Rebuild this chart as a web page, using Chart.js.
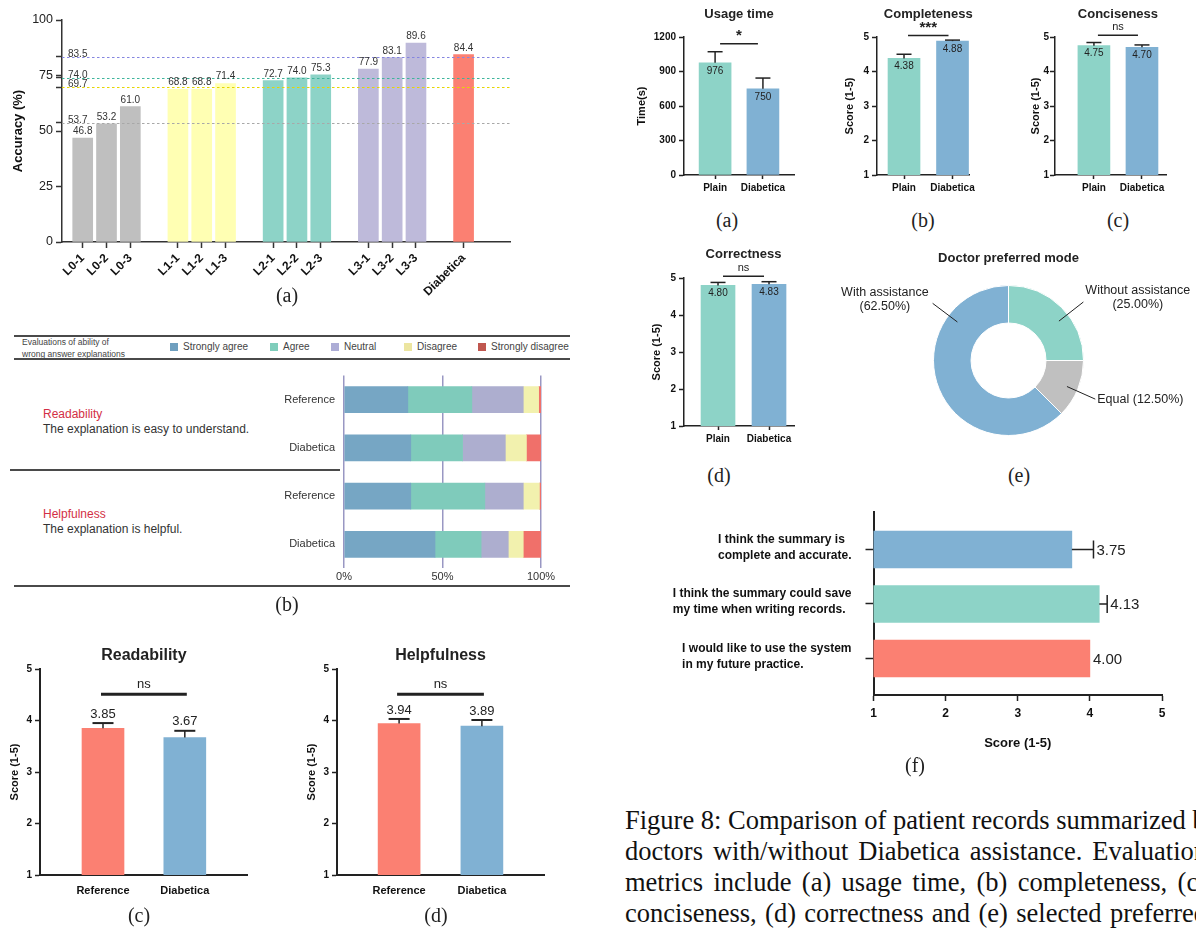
<!DOCTYPE html>
<html lang="en">
<head>
<meta charset="UTF-8">
<title>Figure 8 | Diabetica evaluation</title>
<script src="https://cdn.jsdelivr.net/npm/chart.js"></script>
<style>
  html, body { margin: 0; padding: 0; background: #fff; overflow: hidden; }
  body { position: relative; width: 1196px; height: 929px; font-family: "Liberation Sans", Arial, sans-serif; color: #222; }
  canvas { position: absolute; }
  .sub { position: absolute; font-family: "Liberation Serif", "Times New Roman", serif; font-size: 20px; transform: translate(-50%, -50%); z-index: 2; }
  .rule { position: absolute; background: #4a4a4a; }
  .hdr { position: absolute; left: 22px; top: 336px; font-size: 8.5px; line-height: 12px; color: #444; }
  .key { position: absolute; top: 341px; font-size: 10px; line-height: 12px; color: #444; white-space: nowrap; }
  .key i { display: inline-block; width: 8px; height: 8px; margin-right: 5px; vertical-align: -1px; }
  .aspect { position: absolute; left: 43px; font-size: 12px; line-height: 15px; color: #333; }
  .aspect b { font-weight: normal; color: #d32f45; }
  .caption { position: absolute; left: 625px; top: 805px; width: 582px; font-family: "Liberation Serif", "Times New Roman", serif; font-size: 26.5px; line-height: 31px; color: #111; }
  .caption div { text-align: justify; text-align-last: justify; white-space: nowrap; }
</style>
</head>
<body>

<!-- left column -->
<canvas id="accuracyChart" width="530" height="305" style="left:0;top:0"></canvas>
<div class="sub" style="left:287px;top:295px">(a)</div>

<div class="rule" style="left:14px;top:335px;width:556px;height:2px"></div>
<div class="hdr">Evaluations of ability of<br>wrong answer explanations</div>
<div class="key" style="left:170px"><i style="background:#6f9fbf"></i>Strongly agree</div>
<div class="key" style="left:270px"><i style="background:#7fcdbb"></i>Agree</div>
<div class="key" style="left:331px"><i style="background:#adadd6"></i>Neutral</div>
<div class="key" style="left:404px"><i style="background:#ece5a0"></i>Disagree</div>
<div class="key" style="left:478px"><i style="background:#c0574f"></i>Strongly disagree</div>
<div class="rule" style="left:14px;top:358px;width:556px;height:2px"></div>
<div class="aspect" style="top:407px"><b>Readability</b><br>The explanation is easy to understand.</div>
<div class="rule" style="left:10px;top:469px;width:330px;height:1.5px"></div>
<div class="aspect" style="top:507px"><b>Helpfulness</b><br>The explanation is helpful.</div>
<canvas id="likertChart" width="360" height="226" style="left:220px;top:360px"></canvas>
<div class="rule" style="left:14px;top:585px;width:556px;height:2px"></div>
<div class="sub" style="left:287px;top:604px">(b)</div>

<canvas id="readChart" width="260" height="270" style="left:0;top:640px"></canvas>
<canvas id="helpChart" width="270" height="270" style="left:290px;top:640px"></canvas>
<div class="sub" style="left:139px;top:915px">(c)</div>
<div class="sub" style="left:436px;top:915px">(d)</div>

<!-- right column -->
<canvas id="usageChart" width="180" height="205" style="left:628px;top:0"></canvas>
<canvas id="completeChart" width="170" height="205" style="left:812px;top:0"></canvas>
<canvas id="conciseChart" width="206" height="205" style="left:990px;top:0"></canvas>
<div class="sub" style="left:727px;top:220px">(a)</div>
<div class="sub" style="left:923px;top:220px">(b)</div>
<div class="sub" style="left:1118px;top:220px">(c)</div>

<canvas id="correctChart" width="180" height="215" style="left:628px;top:240px"></canvas>
<canvas id="prefChart" width="376" height="215" style="left:820px;top:245px"></canvas>
<div class="sub" style="left:719px;top:475px">(d)</div>
<div class="sub" style="left:1019px;top:475px">(e)</div>

<canvas id="surveyChart" width="556" height="255" style="left:640px;top:500px"></canvas>
<div class="sub" style="left:915px;top:765px">(f)</div>

<div class="caption">
  <div>Figure 8: Comparison of patient records summarized by</div>
  <div>doctors with/without Diabetica assistance. Evaluation</div>
  <div>metrics include (a) usage time, (b) completeness, (c)</div>
  <div>conciseness, (d) correctness and (e) selected preferred</div>
</div>

<script>
  // ---- (a) accuracy by knowledge level ('' = gap between groups)
  const levelLabels = ['L0-1', 'L0-2', 'L0-3', '', 'L1-1', 'L1-2', 'L1-3', '', 'L2-1', 'L2-2', 'L2-3', '',
                       'L3-1', 'L3-2', 'L3-3', '', 'Diabetica'];
  const levelAccuracy = [46.8, 53.2, 61.0, null, 68.8, 68.8, 71.4, null, 72.7, 74.0, 75.3, null,
                         77.9, 83.1, 89.6, null, 84.4];
  const levelBaselines = [83.5, 74.0, 69.7, 53.7];
  const accuracyTicks = [0, 25, 50, 75, 100];

  // ---- (b) likert shares (%)
  const likertLabels = ['Strongly agree', 'Agree', 'Neutral', 'Disagree', 'Strongly disagree'];
  const likertRows = ['Reference', 'Diabetica', 'Reference', 'Diabetica'];
  const stronglyAgree = [32.4, 33.9, 33.9, 46.2];
  const agree = [32.5, 26.3, 37.6, 23.4];
  const neutral = [26.1, 21.7, 19.5, 13.8];
  const disagree = [7.8, 10.7, 8.2, 7.6];
  const stronglyDisagree = [1.2, 7.4, 0.8, 9.0];

  // ---- (c)(d) explanation scores
  const explainGroups = ['Reference', 'Diabetica'];
  const readability = [3.85, 3.67];
  const readabilityErr = [0.10, 0.13];
  const helpfulness = [3.94, 3.89];
  const helpfulnessErr = [0.09, 0.12];

  // ---- right (a)-(d) summaries
  const modeGroups = ['Plain', 'Diabetica'];
  const usageTime = [976, 750];
  const usageTimeErr = [96, 93];
  const completeness = [4.38, 4.88];
  const completenessErr = [0.12, 0.03];
  const conciseness = [4.75, 4.70];
  const concisenessErr = [0.09, 0.07];
  const correctness = [4.80, 4.83];
  const correctnessErr = [0.08, 0.07];

  // ---- (e) preferred mode
  const prefLabels = ['Without assistance', 'Equal', 'With assistance'];
  const prefShare = [25.00, 12.50, 62.50];

  // ---- (f) survey
  const surveyItems = [
    ['I think the summary is', 'complete and accurate.'],
    ['I think the summary could save', 'my time when writing records.'],
    ['I would like to use the system', 'in my future practice.']
  ];
  const surveyScore = [3.75, 4.13, 4.00];
  const surveyErr = [0.30, 0.11, 0];

  const FONT = '"Liberation Sans", Arial, Helvetica, sans-serif';
  Chart.defaults.font.family = FONT;
  Chart.defaults.color = '#222';
  Chart.defaults.animation = false;
  Chart.defaults.responsive = false;
  Chart.defaults.devicePixelRatio = 1;
  Chart.defaults.plugins.legend.display = false;
  Chart.defaults.plugins.tooltip.enabled = false;

  const teal = '#8dd3c7', blue = '#80b1d3', salmon = '#fb8072';
  const bold = size => ({ size, weight: 'bold' });
  const plain = size => ({ size, weight: 'normal' });
  const css = f => `${f.weight} ${f.size}px ${FONT}`;

  // dashed baselines + value labels for (a)
  const accuracyPlugin = {
    id: 'accuracyMarks',
    afterDatasetsDraw(chart, args, o) {
      const { ctx, chartArea: a } = chart;
      const y = chart.scales.y;
      ctx.save();
      ctx.font = css(plain(10));
      ctx.fillStyle = '#333';
      levelBaselines.forEach((v, i) => {
        const py = Math.round(y.getPixelForValue(v)) + 0.5;
        ctx.strokeStyle = o.lineColors[i];
        ctx.lineWidth = 1.2;
        ctx.setLineDash([2.5, 2.5]);
        ctx.beginPath();
        ctx.moveTo(a.left, py);
        ctx.lineTo(a.right, py);
        ctx.stroke();
        ctx.textAlign = 'left';
        ctx.fillText(v.toFixed(1), a.left + 6, py - 1);
      });
      ctx.setLineDash([]);
      ctx.textAlign = 'center';
      const pts = chart.data.datasets[0].data;
      chart.getDatasetMeta(0).data.forEach((bar, i) => {
        ctx.fillText(pts[i].y.toFixed(1), bar.x, bar.y - 4);
      });
      ctx.restore();
    }
  };

  // error bars, value labels, significance bracket and title for score panels
  const statPlugin = {
    id: 'stat',
    afterDatasetsDraw(chart, args, o) {
      const { ctx } = chart;
      const ys = chart.scales.y;
      const bars = chart.getDatasetMeta(0).data;
      const pts = chart.data.datasets[0].data;
      ctx.save();
      ctx.strokeStyle = '#222';
      ctx.fillStyle = '#222';
      bars.forEach((bar, i) => {
        const top = ys.getPixelForValue(pts[i].y + o.err[i]);
        ctx.lineWidth = 1.5;
        ctx.beginPath();
        ctx.moveTo(bar.x, bar.y);
        ctx.lineTo(bar.x, top);
        ctx.stroke();
        ctx.lineWidth = o.capWidth;
        ctx.beginPath();
        ctx.moveTo(bar.x - o.cap / 2, top);
        ctx.lineTo(bar.x + o.cap / 2, top);
        ctx.stroke();
        ctx.font = css(o.labelFont);
        ctx.textAlign = 'center';
        ctx.textBaseline = 'middle';
        const txt = pts[i].y.toFixed(o.digits);
        if (o.inside) ctx.fillText(txt, bar.x, bar.y + 8);
        else ctx.fillText(txt, bar.x, top - 9);
      });
      const s = o.sig;
      const by = ys.getPixelForValue(s.value);
      ctx.lineWidth = s.width;
      ctx.beginPath();
      ctx.moveTo(bars[0].x + s.inset, by);
      ctx.lineTo(bars[1].x - s.inset, by);
      ctx.stroke();
      const mid = (bars[0].x + bars[1].x) / 2;
      ctx.font = css(s.font);
      ctx.textBaseline = 'bottom';
      ctx.fillText(s.text, mid, by - s.gap);
      ctx.font = css(o.titleFont);
      ctx.textBaseline = 'middle';
      ctx.fillText(o.title, mid, o.titleY);
      ctx.restore();
    }
  };

  // leader-line callouts for the donut
  const donutPlugin = {
    id: 'donutCallouts',
    afterDatasetsDraw(chart, args, o) {
      const { ctx } = chart;
      const arc = chart.getDatasetMeta(0).data[0];
      const cx = arc.x, cy = arc.y;
      ctx.save();
      ctx.strokeStyle = '#222';
      ctx.fillStyle = '#222';
      ctx.lineWidth = 1;
      ctx.font = css(plain(12.5));
      ctx.textAlign = 'center';
      ctx.textBaseline = 'middle';
      chart.data.labels.forEach((label, i) => {
        const ang = o.angles[i] * Math.PI / 180;
        const x0 = cx + o.r0 * Math.cos(ang), y0 = cy + o.r0 * Math.sin(ang);
        const x1 = cx + o.r1 * Math.cos(ang), y1 = cy + o.r1 * Math.sin(ang);
        ctx.beginPath();
        ctx.moveTo(x0, y0);
        ctx.lineTo(x1, y1);
        ctx.stroke();
        const pct = '(' + prefShare[i].toFixed(2) + '%)';
        const lines = o.stacked[i] ? [label, pct] : [label + ' ' + pct];
        const w = Math.max(...lines.map(t => ctx.measureText(t).width));
        const bx = Math.cos(ang) < 0 ? x1 - 4 - w / 2 : x1 + 2 + w / 2;
        if (lines.length === 1) ctx.fillText(lines[0], bx, y1);
        else {
          ctx.fillText(lines[0], bx, y1 - 11);
          ctx.fillText(lines[1], bx, y1 + 3);
        }
      });
      ctx.font = css(bold(13));
      ctx.fillText(o.title, cx, o.titleY);
      ctx.restore();
    }
  };

  // error bars, values and left-aligned item text for (f)
  const surveyPlugin = {
    id: 'surveyMarks',
    afterDatasetsDraw(chart, args, o) {
      const { ctx, chartArea: a } = chart;
      const x = chart.scales.x, y = chart.scales.y;
      ctx.save();
      ctx.strokeStyle = '#222';
      ctx.fillStyle = '#222';
      ctx.lineWidth = 1.5;
      ctx.textBaseline = 'middle';
      chart.getDatasetMeta(0).data.forEach((bar, i) => {
        const end = x.getPixelForValue(surveyScore[i] + surveyErr[i]);
        if (surveyErr[i] > 0) {
          ctx.beginPath();
          ctx.moveTo(bar.x, bar.y);
          ctx.lineTo(end, bar.y);
          ctx.moveTo(end, bar.y - 9);
          ctx.lineTo(end, bar.y + 9);
          ctx.stroke();
        }
        ctx.font = css(plain(15));
        ctx.textAlign = 'left';
        ctx.fillText(surveyScore[i].toFixed(2), end + 3, bar.y + 1);
      });
      ctx.font = css(bold(12));
      ctx.fillStyle = '#111';
      surveyItems.forEach((lines, i) => {
        const cy = y.getPixelForValue(i);
        const w = Math.max(...lines.map(t => ctx.measureText(t).width));
        lines.forEach((t, k) => ctx.fillText(t, a.left - o.gap - w, cy - 10 + 16 * k));
      });
      ctx.restore();
    }
  };

  // ---- (a) accuracy
  const levelPoints = levelAccuracy.map((v, i) => ({ x: i, y: v })).filter(p => p.y !== null);
  const levelColors = { L0: '#bfbfbf', L1: '#ffffb3', L2: teal, L3: '#bebada', Diabetica: salmon };

  new Chart(document.getElementById('accuracyChart'), {
    type: 'bar',
    data: {
      datasets: [{
        data: levelPoints,
        backgroundColor: levelPoints.map(p => levelColors[levelLabels[p.x].split('-')[0]]),
        barThickness: 20
      }]
    },
    options: {
      layout: { padding: { top: 20, right: 20 } },
      scales: {
        x: {
          type: 'linear', min: -0.87, max: 17.95, offset: false,
          afterBuildTicks: s => { s.ticks = levelLabels.map((l, i) => ({ value: i })).filter(t => levelLabels[t.value] !== ''); },
          afterFit: s => { s.height = 63; },
          ticks: { autoSkip: false, minRotation: 45, maxRotation: 45, padding: 3, color: '#111', font: bold(12), callback: v => levelLabels[v] },
          grid: { offset: false, drawOnChartArea: false, tickLength: 6, tickWidth: 1.5, tickColor: '#333' },
          border: { color: '#333', width: 1.5 }
        },
        y: {
          min: 0, max: 100,
          afterBuildTicks: s => { s.ticks = accuracyTicks.concat(levelBaselines).sort((p, q) => p - q).map(v => ({ value: v })); },
          afterFit: s => { s.width = 62; },
          ticks: { padding: 3, color: '#222', font: plain(12.5), callback: v => (accuracyTicks.includes(v) ? v : '') },
          grid: { drawOnChartArea: false, tickLength: 6, tickWidth: 1.5, tickColor: '#333' },
          border: { color: '#333', width: 1.5 },
          title: { display: true, text: 'Accuracy (%)', color: '#111', font: bold(13), padding: { top: 11 } }
        }
      },
      plugins: { accuracyMarks: { lineColors: ['#8585e0', '#3fb59c', '#e6d600', '#a8a8a8'] } }
    },
    plugins: [accuracyPlugin]
  });

  // ---- (b) likert stacked bars
  const likertSeries = [stronglyAgree, agree, neutral, disagree, stronglyDisagree];
  const likertColors = ['#76a6c4', '#7fcbbb', '#adaecf', '#f2f1ae', '#f0706a'];

  new Chart(document.getElementById('likertChart'), {
    type: 'bar',
    data: {
      labels: likertRows,
      datasets: likertLabels.map((label, k) => ({
        label, data: likertSeries[k], backgroundColor: likertColors[k], barThickness: 26
      }))
    },
    options: {
      indexAxis: 'y',
      layout: { padding: { top: 13.6, right: 39 } },
      scales: {
        x: {
          stacked: true, min: 0, max: 100, z: 1,
          afterFit: s => { s.height = 17.6; },
          ticks: { stepSize: 50, padding: 2, color: '#333', font: plain(11), callback: v => v + '%' },
          grid: { color: 'rgba(128,125,180,0.8)', lineWidth: 1.5, drawTicks: false },
          border: { display: false }
        },
        y: {
          stacked: true,
          afterFit: s => { s.width = 124; },
          ticks: { padding: 9, color: '#333', font: plain(11) },
          grid: { display: false, drawTicks: false },
          border: { display: false }
        }
      }
    }
  });

  // ---- score panels
  function scorePanel(id, c) {
    const points = c.values.map((v, i) => ({ x: i, y: v }));
    return new Chart(document.getElementById(id), {
      type: 'bar',
      data: { datasets: [{ data: points, backgroundColor: c.colors, barThickness: c.barWidth }] },
      options: {
        layout: { padding: { top: c.padTop, right: c.padRight } },
        scales: {
          x: {
            type: 'linear', min: c.xMin, max: c.xMax, offset: false,
            afterBuildTicks: s => { s.ticks = c.groups.map((g, i) => ({ value: i })); },
            afterFit: s => { s.height = c.xHeight; },
            ticks: { autoSkip: false, maxRotation: 0, padding: c.xPad, color: '#111', font: bold(c.xFont), callback: v => c.groups[v] },
            grid: { offset: false, display: c.xTicks, drawTicks: c.xTicks, drawOnChartArea: false, tickLength: 4, tickWidth: 1.5, tickColor: '#222' },
            border: { color: '#222', width: c.axisWidth }
          },
          y: {
            min: c.yMin, max: c.yMax,
            afterFit: s => { s.width = c.yWidth; },
            ticks: { stepSize: c.step, padding: c.yPad, color: '#111', font: bold(10), callback: v => v },
            grid: { drawOnChartArea: false, tickLength: 5, tickWidth: 1.5, tickColor: '#222' },
            border: { color: '#222', width: c.axisWidth },
            title: { display: true, text: c.yTitle, color: '#111', font: bold(11), padding: { top: c.yTitlePad } }
          }
        },
        plugins: { stat: c.stat }
      },
      plugins: [statPlugin]
    });
  }

  const leftPanel = {
    groups: explainGroups, colors: [salmon, blue], barWidth: 42, xMin: -0.77, xMax: 1.76,
    yMin: 1, yMax: 5, step: 1, padTop: 29, xHeight: 35, xPad: 9.5, xFont: 11, xTicks: false, axisWidth: 2,
    yPad: 3, yTitle: 'Score (1-5)'
  };
  scorePanel('readChart', Object.assign({}, leftPanel, {
    values: readability, yWidth: 40, padRight: 13, yTitlePad: 8.4,
    stat: { err: readabilityErr, cap: 21, capWidth: 2, labelFont: plain(13), digits: 2, inside: false,
            sig: { text: 'ns', value: 4.51, inset: -2, width: 3, font: plain(13), gap: 3.5 },
            title: 'Readability', titleFont: bold(16), titleY: 16 }
  }));
  scorePanel('helpChart', Object.assign({}, leftPanel, {
    values: helpfulness, yWidth: 47, padRight: 16, yTitlePad: 15.4, xMin: -0.75, xMax: 1.75,
    stat: { err: helpfulnessErr, cap: 21, capWidth: 2, labelFont: plain(13), digits: 2, inside: false,
            sig: { text: 'ns', value: 4.51, inset: -2, width: 3, font: plain(13), gap: 3.5 },
            title: 'Helpfulness', titleFont: bold(16), titleY: 16 }
  }));

  const rightPanel = {
    groups: modeGroups, colors: [teal, blue], barWidth: 32, yMin: 1, yMax: 5, step: 1,
    padTop: 37, xHeight: 30, xPad: 3, xFont: 10, xTicks: true, axisWidth: 1.5, yPad: 3, yTitle: 'Score (1-5)'
  };
  scorePanel('usageChart', Object.assign({}, rightPanel, {
    values: usageTime, yMin: 0, yMax: 1200, step: 300, xMin: -0.65, xMax: 1.66,
    yWidth: 56, padRight: 13.5, yTitle: 'Time(s)', yTitlePad: 7.4,
    stat: { err: usageTimeErr, cap: 15, capWidth: 1.5, labelFont: plain(10), digits: 0, inside: true,
            sig: { text: '*', value: 1142, inset: 5, width: 1.5, font: bold(15), gap: 0 },
            title: 'Usage time', titleFont: bold(13), titleY: 14 }
  }));
  scorePanel('completeChart', Object.assign({}, rightPanel, {
    values: completeness, xMin: -0.557, xMax: 1.34, yWidth: 65, padRight: 13, yTitlePad: 31,
    stat: { err: completenessErr, cap: 15, capWidth: 1.5, labelFont: plain(10), digits: 2, inside: true,
            sig: { text: '***', value: 5.04, inset: 4, width: 1.5, font: bold(15), gap: 0 },
            title: 'Completeness', titleFont: bold(13), titleY: 14 }
  }));
  scorePanel('conciseChart', Object.assign({}, rightPanel, {
    values: conciseness, xMin: -0.81, xMax: 1.5, yWidth: 65, padRight: 30, yTitlePad: 39, yPad: 1,
    stat: { err: concisenessErr, cap: 15, capWidth: 1.5, labelFont: plain(10), digits: 2, inside: true,
            sig: { text: 'ns', value: 5.05, inset: 4, width: 1.5, font: plain(11), gap: 3 },
            title: 'Conciseness', titleFont: bold(13), titleY: 14 }
  }));
  scorePanel('correctChart', Object.assign({}, rightPanel, {
    values: correctness, barWidth: 34, xMin: -0.667, xMax: 1.49, yWidth: 56, padRight: 14,
    padTop: 38, xHeight: 29, yTitlePad: 22.4,
    stat: { err: correctnessErr, cap: 15, capWidth: 1.5, labelFont: plain(10), digits: 2, inside: true,
            sig: { text: 'ns', value: 5.05, inset: 5, width: 1.5, font: plain(11), gap: 3 },
            title: 'Correctness', titleFont: bold(13), titleY: 14 }
  }));

  // ---- (e) donut
  new Chart(document.getElementById('prefChart'), {
    type: 'doughnut',
    data: {
      labels: prefLabels,
      datasets: [{ data: prefShare, backgroundColor: [teal, '#c0c0c0', blue], borderColor: '#fff', borderWidth: 1 }]
    },
    options: {
      cutout: '50%',
      layout: { padding: { left: 113, right: 112, top: 40, bottom: 24 } },
      plugins: {
        donutCallouts: { angles: [-38, 24, -143], r0: 64, r1: 95, stacked: [true, false, true],
                         title: 'Doctor preferred mode', titleY: 13 }
      }
    },
    plugins: [donutPlugin]
  });

  // ---- (f) survey horizontal bars
  const surveyPoints = surveyScore.map((v, i) => ({ x: v, y: i }));
  new Chart(document.getElementById('surveyChart'), {
    type: 'bar',
    data: { datasets: [{ data: surveyPoints, backgroundColor: [blue, teal, salmon], barThickness: 37 }] },
    options: {
      indexAxis: 'y',
      layout: { padding: { top: 12, right: 34 } },
      scales: {
        x: {
          min: 1, max: 5,
          afterFit: s => { s.height = 60; },
          ticks: { stepSize: 1, padding: 5, color: '#111', font: bold(12) },
          grid: { drawOnChartArea: false, tickLength: 6, tickWidth: 1.5, tickColor: '#222' },
          border: { color: '#222', width: 2 },
          title: { display: true, text: 'Score (1-5)', color: '#111', font: bold(13), padding: { top: 0, bottom: 4 } }
        },
        y: {
          type: 'linear', min: -0.688, max: 2.67, reverse: true, offset: false,
          afterBuildTicks: s => { s.ticks = surveyItems.map((t, i) => ({ value: i })); },
          afterFit: s => { s.width = 233.5; },
          ticks: { display: false },
          grid: { offset: false, drawOnChartArea: false, tickLength: 8, tickWidth: 1.5, tickColor: '#222' },
          border: { color: '#222', width: 2 }
        }
      },
      plugins: { surveyMarks: { gap: 22 } }
    },
    plugins: [surveyPlugin]
  });
</script>
</body>
</html>
